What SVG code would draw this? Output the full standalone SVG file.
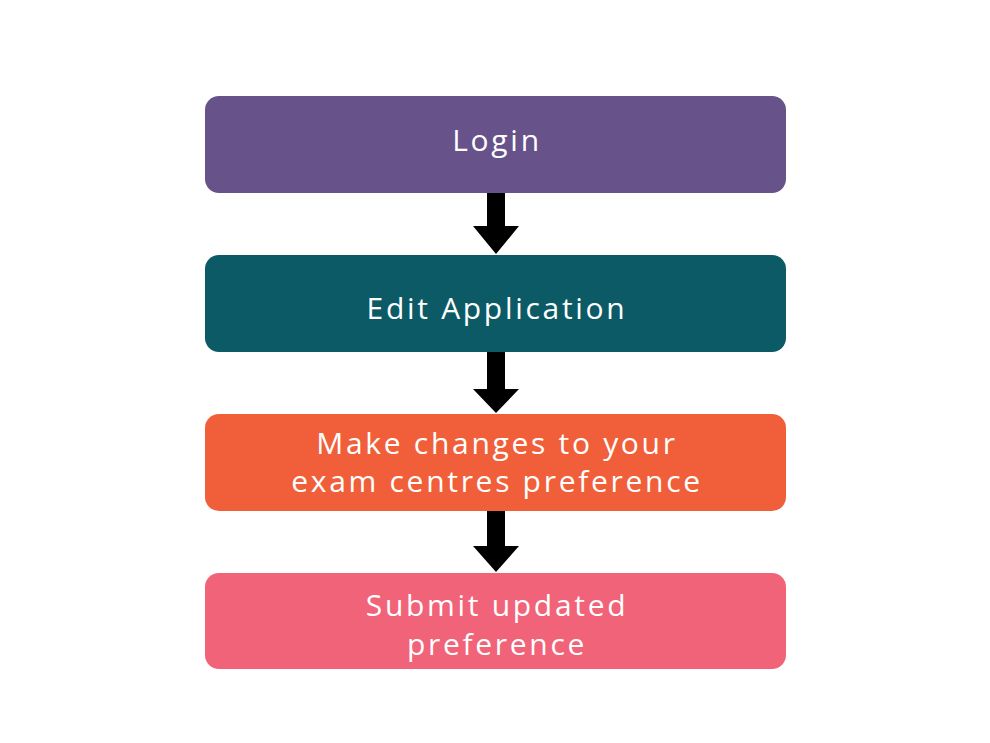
<svg xmlns="http://www.w3.org/2000/svg" width="990" height="743" viewBox="0 0 990 743">
<style>
.box{stroke:none}
.t{font-family:"Open Sans","Liberation Sans",sans-serif;font-size:30px;fill:#ffffff;text-anchor:middle;letter-spacing:2.7px}
.arr{fill:#000000}
</style>
<rect width="990" height="743" fill="#ffffff"/>
<g id="login"><rect class="box" x="205" y="96" width="581" height="97" rx="14" fill="#67528a"/><text class="t" x="497" y="151">Login</text></g>
<g id="edit"><rect class="box" x="205" y="255" width="581" height="97" rx="14" fill="#0b5a66"/><text class="t" x="497" y="319">Edit Application</text></g>
<g id="changes"><rect class="box" x="205" y="414" width="581" height="97" rx="14" fill="#f05f3a"/><text class="t" x="497" y="454">Make changes to your</text><text class="t" x="497" y="492">exam centres preference</text></g>
<g id="submit"><rect class="box" x="205" y="573" width="581" height="96" rx="14" fill="#f06379"/><text class="t" x="497" y="616">Submit updated</text><text class="t" x="497" y="655">preference</text></g>
<g id="connectors">
<polygon class="arr" points="487,193 505,193 505,226 519,226 496,254 473,226 487,226"/>
<polygon class="arr" points="487,352 505,352 505,389 519,389 496,413 473,389 487,389"/>
<polygon class="arr" points="487,511 505,511 505,546 519,546 496,572 473,546 487,546"/>
</g>
</svg>
